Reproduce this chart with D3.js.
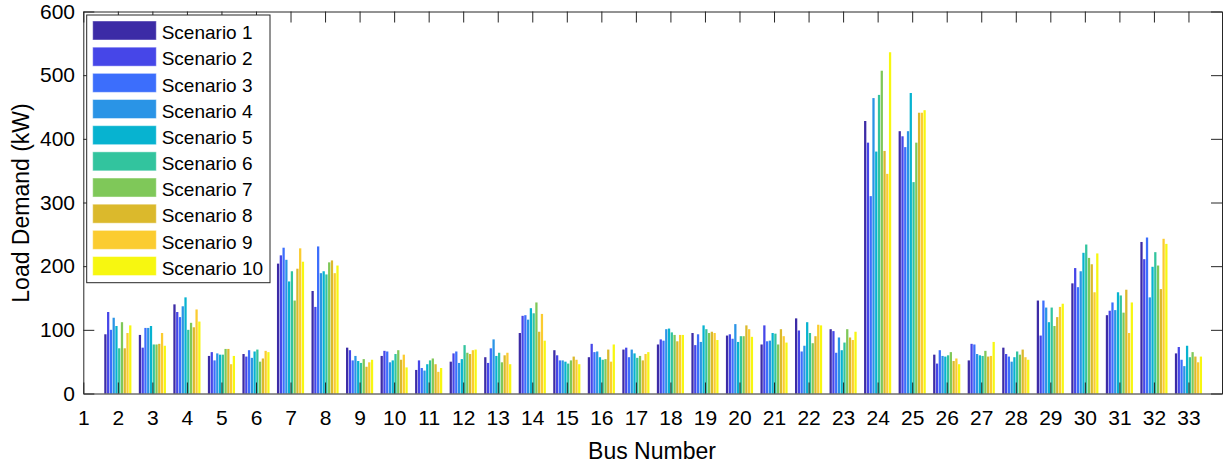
<!DOCTYPE html>
<html><head><meta charset="utf-8">
<script src="https://cdn.jsdelivr.net/npm/d3@7"></script>
<style>
body{margin:0;background:#fff}
svg{display:block}
text{font-family:"Liberation Sans",Arial,Helvetica,sans-serif;fill:#000}
</style>
</head><body>
<svg id="chart" width="1223" height="464"></svg>
<script>
// ---- data ----
const buses = d3.range(1, 34);                // bus numbers 1..33 (x tick labels)
const yTicks = [0, 100, 200, 300, 400, 500, 600];
const scenarioNames = ["Scenario 1","Scenario 2","Scenario 3","Scenario 4","Scenario 5",
                       "Scenario 6","Scenario 7","Scenario 8","Scenario 9","Scenario 10"];
const scenario1  = [0,93,92,140,59,62,204,161,72,59,37,50,57,95,68,57,69,77,95,91,77,118,101,428,412,61,52,72,146,173,123,238,63];
const scenario2  = [0,128,72,128,65,58,217,136,68,67,52,63,48,122,60,78,72,85,76,93,107,99,98,394,404,47,78,62,91,197,130,211,73];
const scenario3  = [0,100,103,120,52,68,229,231,52,66,40,66,71,123,52,65,57,83,93,86,82,66,64,310,387,68,77,58,146,167,143,245,53];
const scenario4  = [0,119,103,137,63,56,210,189,59,49,36,48,85,116,52,66,69,101,81,109,83,75,88,464,412,59,62,50,135,192,131,151,43];
const scenario5  = [0,106,106,151,61,66,176,192,51,52,46,54,59,134,50,57,63,102,107,81,95,112,68,380,472,58,60,57,112,221,159,199,75];
const scenario6  = [0,71,77,100,61,69,192,187,48,62,52,76,64,126,47,53,56,96,101,90,94,95,80,469,332,60,59,66,135,234,154,222,57];
const scenario7  = [0,112,77,111,70,50,146,206,54,68,55,64,49,143,52,54,59,92,95,90,77,79,101,507,394,65,67,61,106,213,127,201,65];
const scenario8  = [0,71,78,104,70,55,196,209,42,53,46,62,60,97,58,69,52,82,97,107,101,90,88,381,441,51,58,69,120,203,163,164,58];
const scenario9  = [0,95,95,132,46,67,228,189,49,61,34,68,64,125,53,50,62,92,95,101,90,108,84,345,441,55,59,57,136,159,95,243,49];
const scenario10 = [0,107,75,113,59,65,207,201,53,41,40,69,46,83,46,77,65,92,84,89,80,107,97,536,445,46,81,53,141,220,143,235,58];
const series = [scenario1,scenario2,scenario3,scenario4,scenario5,scenario6,scenario7,scenario8,scenario9,scenario10];
const colors = ["#3c2ba6","#4646e8","#3c6efc","#2a94e6","#07b3d0","#32c49e","#7fc859","#dbb92c","#fbcc30","#f7f710"];

// ---- layout ----
const svg = d3.select("#chart");
const axisColor = "#262626";
const x = d3.scaleLinear().domain([1, 34]).range([83.3, 1223]);
const y = d3.scaleLinear().domain([0, 600]).range([393.5, 11.5]);
const nS = series.length;
const groupW = 0.8;
const slot = groupW / nS;
const barPx = (x(slot) - x(0)) * 0.82;

// bars
series.forEach((vals, si) => {
  svg.append("g").selectAll("rect")
    .data(buses.map((b, i) => ({bus: b, v: vals[i]})).filter(d => d.v > 0))
    .join("rect")
    .attr("x", d => x(d.bus - groupW / 2 + (si + 0.5) * slot) - barPx / 2)
    .attr("width", barPx)
    .attr("y", d => y(d.v))
    .attr("height", d => y(0) - y(d.v))
    .attr("fill", colors[si]);
});

// axes
const styleAxis = g => {
  g.select(".domain").attr("stroke", axisColor);
  g.selectAll(".tick line").attr("stroke", axisColor);
  g.selectAll(".tick text").attr("fill", "#000").style("font-size", "21px")
    .style("font-family", '"Liberation Sans",Arial,sans-serif');
};
svg.append("g").attr("transform", `translate(0,${y(0)})`)
  .call(d3.axisBottom(x).tickValues(buses).tickFormat(d3.format("d")).tickSize(-11).tickSizeOuter(0).tickPadding(16.6))
  .call(styleAxis);
svg.append("g").attr("transform", `translate(0,${y(600)})`)
  .call(d3.axisTop(x).tickValues(buses).tickFormat("").tickSize(-11).tickSizeOuter(0))
  .call(styleAxis);
svg.append("g").attr("transform", `translate(${x(1)},0)`)
  .call(d3.axisLeft(y).tickValues(yTicks).tickFormat(d3.format("d")).tickSize(-11).tickSizeOuter(0).tickPadding(8.3))
  .call(styleAxis);
svg.append("g").attr("transform", `translate(${x(34) - 1},0)`)
  .call(d3.axisRight(y).tickValues(yTicks).tickFormat("").tickSize(-11).tickSizeOuter(0))
  .call(styleAxis);

// axis labels
svg.append("text").attr("x", 652).attr("y", 459).attr("text-anchor", "middle")
  .style("font-size", "23px").text("Bus Number");
svg.append("text").attr("transform", "translate(28.5,203) rotate(-90)").attr("text-anchor", "middle")
  .style("font-size", "23px").text("Load Demand (kW)");

// legend
const lg = svg.append("g");
lg.append("rect").attr("x", 86.7).attr("y", 15).attr("width", 183.3).attr("height", 267.7)
  .attr("fill", "#fff").attr("stroke", axisColor).attr("stroke-width", 1);
scenarioNames.forEach((name, i) => {
  const top = 21 + i * 26.17;
  lg.append("rect").attr("x", 92.7).attr("y", top).attr("width", 63.6).attr("height", 19)
    .attr("fill", colors[i]).attr("stroke", "#ffffff").attr("stroke-opacity", 0.45).attr("stroke-width", 1);
  lg.append("text").attr("x", 161.7).attr("y", top + 18.3).style("font-size", "19px").text(name);
});
</script>
</body></html>
